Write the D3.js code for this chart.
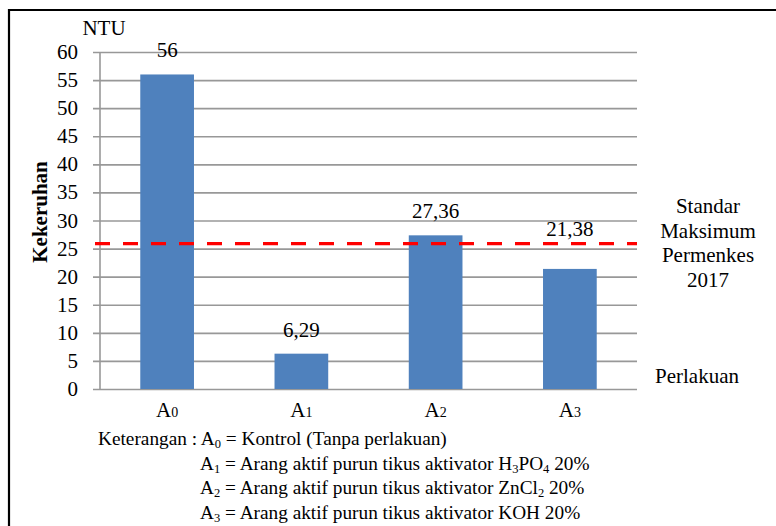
<!DOCTYPE html>
<html><head><meta charset="utf-8">
<script src="https://cdn.jsdelivr.net/npm/d3@7"></script>
<style>body{margin:0;background:#fff}svg{display:block}text{font-family:"Liberation Serif","Times New Roman",serif;fill:#000}</style>
</head><body><svg id="c" width="776" height="526"></svg>
<script>
const categories = ["0","1","2","3"];
const values = [56, 6.29, 27.36, 21.38];
const valueLabels = ["56","6,29","27,36","21,38"];
const yTicks = [0,5,10,15,20,25,30,35,40,45,50,55,60];
const standard = 25.9;
const standardLabel = ["Standar","Maksimum","Permenkes","2017"];
const notes = [
  [["Keterangan : A",""],["0","sub"],[" = Kontrol (Tanpa perlakuan)",""]],
  [["A",""],["1","sub"],[" = Arang aktif purun tikus aktivator H",""],["3","sub"],["PO",""],["4","sub"],[" 20%",""]],
  [["A",""],["2","sub"],[" = Arang aktif purun tikus aktivator ZnCl",""],["2","sub"],[" 20%",""]],
  [["A",""],["3","sub"],[" = Arang aktif purun tikus aktivator KOH 20%",""]]
];

const svg = d3.select("#c");
const x0 = 100, x1 = 637, yTop = 52, yBot = 389;
const x = d3.scaleBand().domain(categories).range([x0, x1]).paddingInner(0.6).paddingOuter(0.3);
const y = d3.scaleLinear().domain([0,60]).range([yBot, yTop]);

// frame
svg.append("path").attr("d","M9,526 V10 H776").attr("fill","none").attr("stroke","#000").attr("stroke-width",2.2);

// gridlines
const yAxis = d3.axisLeft(y).tickValues(yTicks).tickSize(-(x1 - x0)).tickFormat("");
const gAx = svg.append("g").attr("transform",`translate(${x0},0)`).call(yAxis);
gAx.select(".domain").remove();
gAx.selectAll("line").attr("stroke","#989898").attr("stroke-width",1.6).attr("x1",-7);
svg.append("line").attr("x1",x0).attr("x2",x0).attr("y1",yTop).attr("y2",yBot).attr("stroke","#989898").attr("stroke-width",1.6);

// tick labels
svg.append("g").selectAll("text").data(yTicks).join("text")
  .attr("x",78).attr("y",d=>y(d)+7).attr("text-anchor","end").attr("font-size",21).text(d=>d);

// bars
svg.append("g").selectAll("rect").data(values).join("rect")
  .attr("x",(d,i)=>x(categories[i])).attr("width",x.bandwidth())
  .attr("y",d=>y(d)).attr("height",d=>yBot - y(d)).attr("fill","#4F81BD");

// data labels (moved above the standard line when they would overlap it)
const ys = y(standard);
function labelY(d){
  const b = y(d) - 17;
  return (b > ys - 4 && b < ys + 22) ? ys - 8 : b;
}
svg.append("g").selectAll("text").data(values).join("text")
  .attr("x",(d,i)=>x(categories[i])+x.bandwidth()/2).attr("y",labelY)
  .attr("text-anchor","middle").attr("font-size",21).text((d,i)=>valueLabels[i]);

// standard line
svg.append("line").attr("x1",95).attr("x2",x1).attr("y1",ys).attr("y2",ys)
  .attr("stroke","#FF0000").attr("stroke-width",3.2).attr("stroke-dasharray","15,13");

// x labels
const xl = svg.append("g").selectAll("text").data(categories).join("text")
  .attr("x",(d)=>x(d)+x.bandwidth()/2).attr("y",417).attr("text-anchor","middle").attr("font-size",21);
xl.append("tspan").text("A");
xl.append("tspan").attr("font-size",14).text(d=>d);

// titles
svg.append("text").attr("x",104).attr("y",35).attr("text-anchor","middle").attr("font-size",21).text("NTU");
svg.append("text").attr("transform","translate(47,212) rotate(-90)").attr("text-anchor","middle")
  .attr("font-size",21).attr("font-weight","bold").text("Kekeruhan");
svg.append("g").selectAll("text").data(standardLabel).join("text").attr("x",708).attr("y",(d,i)=>213+i*24.7)
  .attr("text-anchor","middle").attr("font-size",21).text(d=>d);
svg.append("text").attr("x",655).attr("y",383).attr("font-size",21).text("Perlakuan");

// notes
const nx = [98,200,200,200];
notes.forEach((line,i)=>{
  const t = svg.append("text").attr("x",nx[i]).attr("y",445+i*24.5).attr("font-size",19.3);
  let prevSub=false;
  line.forEach(([s,k])=>{
    const isSub = k==="sub";
    const sp = t.append("tspan").text(s);
    if(isSub) sp.attr("font-size",12.5);
    sp.attr("dy", isSub && !prevSub ? 3 : (!isSub && prevSub ? -3 : 0));
    prevSub = isSub;
  });
});
</script></body></html>
